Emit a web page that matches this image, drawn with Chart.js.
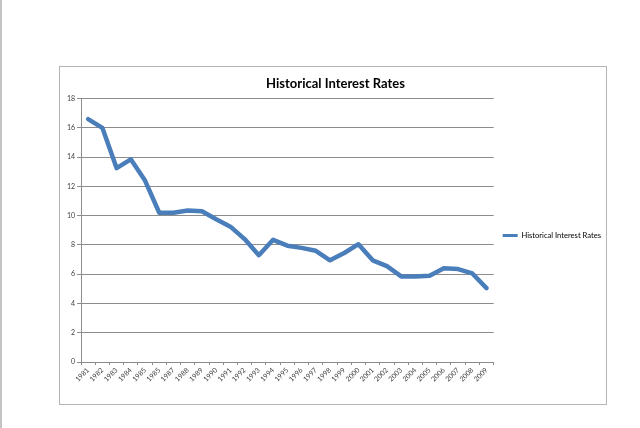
<!DOCTYPE html>
<html>
<head>
<meta charset="utf-8">
<script src="https://cdn.jsdelivr.net/npm/chart.js@4.4.1/dist/chart.umd.min.js"></script>
<style>
  html,body{margin:0;padding:0;background:#fff;}
  body{width:640px;height:428px;position:relative;overflow:hidden;}
  .pageEdge{position:absolute;left:0;top:0;width:2px;height:428px;background:#c4c4c4;}
  .box{position:absolute;left:59px;top:66px;width:546px;height:337px;border:1px solid #b4b4b4;background:#fff;}
  .box canvas{display:block;}
</style>
</head>
<body>
<div class="pageEdge"></div>
<div class="box"><canvas id="rateChart" width="546" height="337"></canvas></div>
<script>
// data
const years = ["1981","1982","1983","1984","1985","1985","1987","1988","1989","1990",
  "1991","1992","1993","1994","1995","1996","1997","1998","1999","2000",
  "2001","2002","2003","2004","2005","2006","2007","2008","2009"];
const rates = [16.6,16.0,13.25,13.85,12.4,10.2,10.2,10.35,10.3,9.75,
  9.25,8.4,7.3,8.35,7.95,7.8,7.6,6.95,7.45,8.05,
  6.95,6.55,5.85,5.85,5.9,6.4,6.35,6.05,5.05];
const yTicks = [0,2,4,6,8,10,12,14,16,18];
const seriesName = "Historical Interest Rates";

const FONT = "Lato, Carlito, 'Liberation Sans', sans-serif";
const blue = "#4a7ebb";

new Chart(document.getElementById("rateChart"), {
  type: "line",
  data: {
    labels: years,
    datasets: [{
      label: seriesName,
      data: rates,
      borderColor: blue,
      backgroundColor: blue,
      borderWidth: 4.5,
      pointRadius: 0,
      tension: 0,
      borderJoinStyle: "round",
      borderCapStyle: "round"
    }]
  },
  options: {
    responsive: false,
    animation: false,
    layout: {padding: {left: 0, right: -5, top: 0, bottom: 0}},
    plugins: {
      title: {
        display: true,
        text: seriesName,
        color: "#000",
        font: {family: FONT, size: 13, weight: "bold"},
        padding: {top: 9, bottom: 7}
      },
      legend: {
        position: "right",
        labels: {
          color: "#000",
          font: {family: FONT, size: 7.6},
          boxWidth: 15,
          boxHeight: 3,
          padding: 9,
          // thin line sample like the original, no thick outline
          generateLabels: chart => Chart.defaults.plugins.legend.labels.generateLabels(chart)
            .map(l => Object.assign(l, {lineWidth: 0}))
        }
      },
      tooltip: {enabled: false}
    },
    scales: {
      x: {
        offset: true,
        grid: {offset: true, drawOnChartArea: false, drawTicks: true, tickLength: 3, color: "#8c8c8c"},
        border: {color: "#8c8c8c"},
        ticks: {
          color: "#404040",
          font: {family: FONT, size: 7},
          autoSkip: false,
          minRotation: 45,
          maxRotation: 45,
          padding: 1
        },
        afterFit: s => { s.height = 42; }
      },
      y: {
        min: 0, max: 18,
        afterBuildTicks: s => { s.ticks = yTicks.map(v => ({value: v})); },
        grid: {color: "#8c8c8c", tickLength: 4},
        border: {color: "#8c8c8c"},
        ticks: {color: "#404040", font: {family: FONT, size: 7}, padding: 2},
        afterFit: s => { s.width = 21; }
      }
    }
  }
});
</script>
</body>
</html>
